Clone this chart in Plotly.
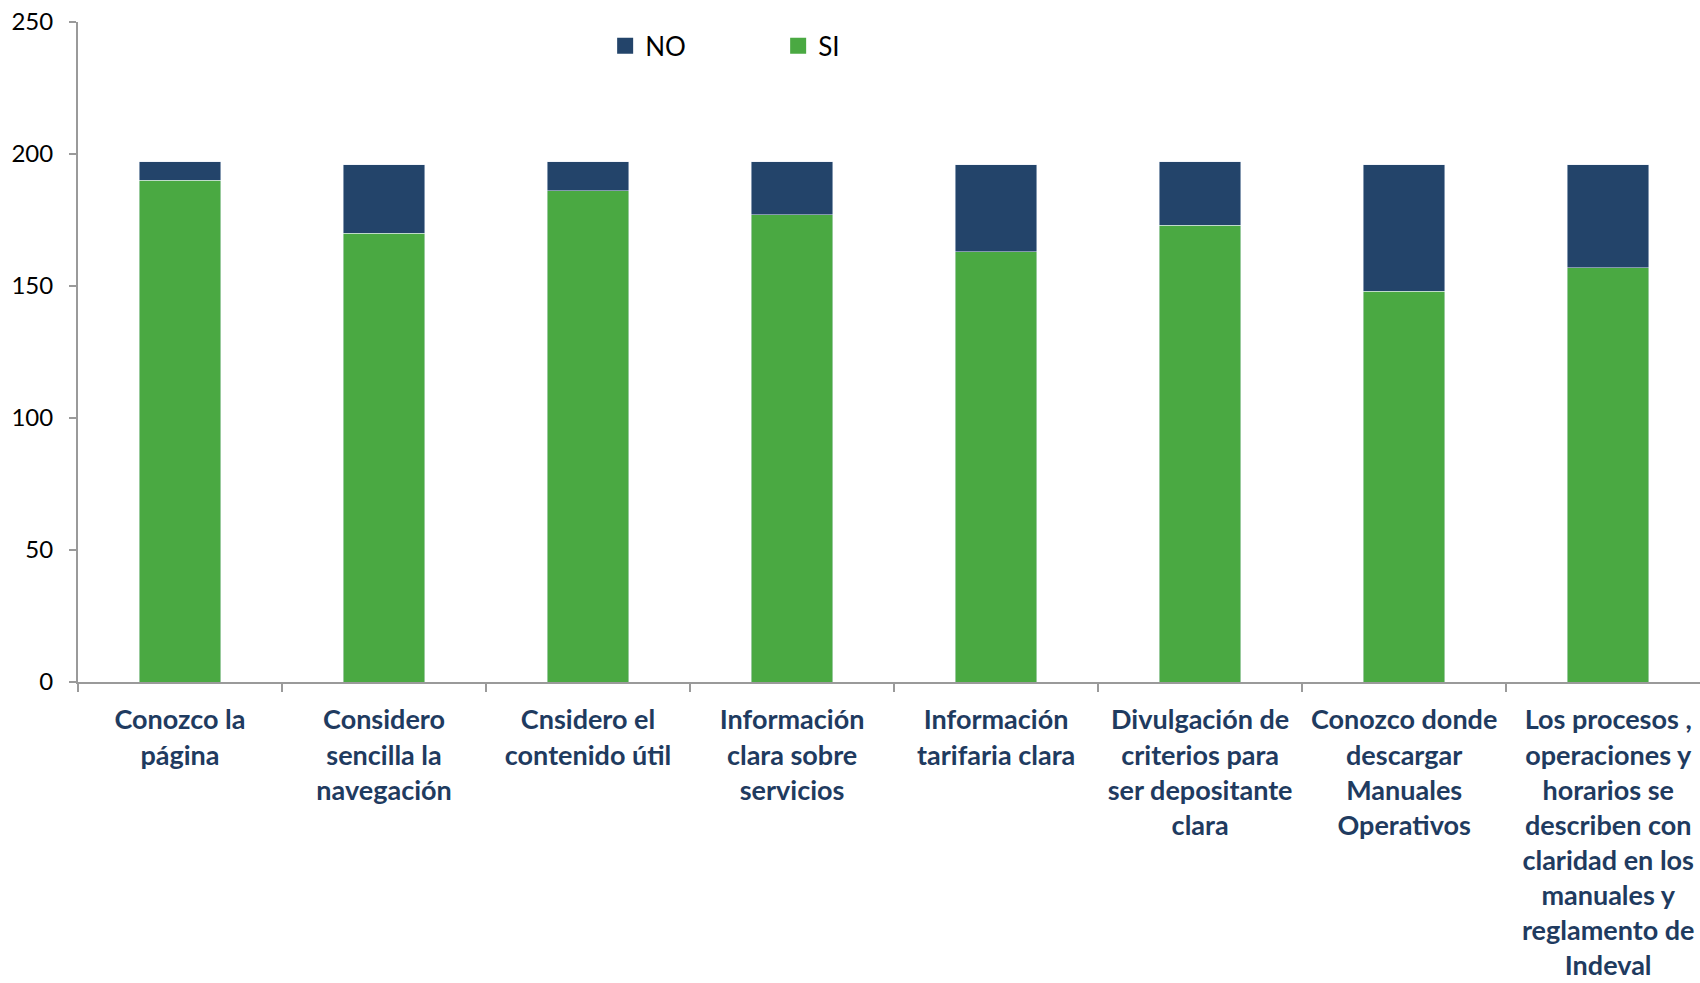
import plotly.graph_objects as go

# Survey answers per question (stacked: SI at the bottom, NO on top)
categories = [
    "Conozco la<br>página",
    "Considero<br>sencilla la<br>navegación",
    "Cnsidero el<br>contenido útil",
    "Información<br>clara sobre<br>servicios",
    "Información<br>tarifaria clara",
    "Divulgación de<br>criterios para<br>ser depositante<br>clara",
    "Conozco donde<br>descargar<br>Manuales<br>Operativos",
    "Los procesos ,<br>operaciones y<br>horarios se<br>describen con<br>claridad en los<br>manuales y<br>reglamento de<br>Indeval",
]
si_values = [190, 170, 186, 177, 163, 173, 148, 157]
no_values = [7, 26, 11, 20, 33, 24, 48, 39]
y_ticks = [0, 50, 100, 150, 200, 250]

COLOR_SI = "#4AA942"
COLOR_NO = "#23446A"
LABEL_COLOR = "#1F3B60"
AXIS_COLOR = "#9A9A9A"
FONT = "Lato"

fig = go.Figure()
fig.add_trace(go.Bar(x=categories, y=si_values, name="SI", marker_color=COLOR_SI,
                     width=0.4, showlegend=False))
fig.add_trace(go.Bar(x=categories, y=no_values, name="NO", marker_color=COLOR_NO,
                     width=0.4, showlegend=False))

# Legend entries with larger square swatches
for name, color in [("NO", COLOR_NO), ("SI", COLOR_SI)]:
    fig.add_trace(go.Scatter(x=[None], y=[None], mode="markers", name=name,
                             marker=dict(symbol="square", size=17, color=color)))

fig.update_layout(
    width=1700, height=983,
    barmode="stack",
    plot_bgcolor="white", paper_bgcolor="white",
    margin=dict(l=78, r=0, t=22, b=301),
    font=dict(family=FONT, color="black"),
    legend=dict(orientation="h", x=0.325, xanchor="left", y=0.964, yanchor="middle",
                traceorder="normal",
                font=dict(size=26, family=FONT, color="black"),
                entrywidth=128, entrywidthmode="pixels", itemwidth=30,
                bgcolor="rgba(0,0,0,0)"),
)
fig.update_xaxes(
    range=[-0.5, 7.45],
    showline=True, linecolor=AXIS_COLOR, linewidth=2,
    ticks="outside", tickson="boundaries", ticklen=8, tickcolor=AXIS_COLOR, tickwidth=2,
    tickfont=dict(size=27, family=FONT, color=LABEL_COLOR, weight="bold"),
    tickangle=0, ticklabelstandoff=13,
    showgrid=False, zeroline=False,
)
fig.update_yaxes(
    range=[0, 250], tickvals=y_ticks,
    showline=True, linecolor=AXIS_COLOR, linewidth=2,
    ticks="outside", ticklen=7, tickcolor=AXIS_COLOR, tickwidth=2,
    tickfont=dict(size=24, family=FONT, color="black"),
    ticklabelstandoff=11,
    showgrid=False, zeroline=False,
)

fig.write_html("out.html")
